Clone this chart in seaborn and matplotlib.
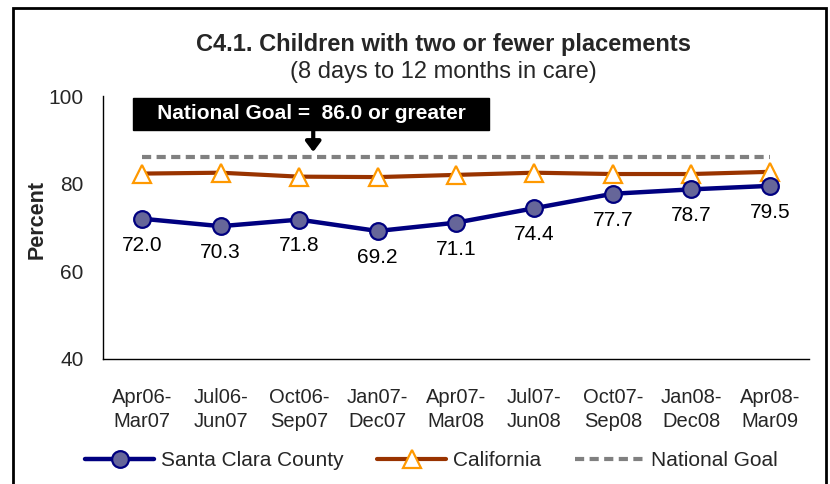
import matplotlib
matplotlib.use("Agg")
import matplotlib.pyplot as plt
from matplotlib.patches import Rectangle
import seaborn as sns
import pandas as pd

categories = ["Apr06-\nMar07", "Jul06-\nJun07", "Oct06-\nSep07", "Jan07-\nDec07",
              "Apr07-\nMar08", "Jul07-\nJun08", "Oct07-\nSep08", "Jan08-\nDec08",
              "Apr08-\nMar09"]
santa_clara = [72.0, 70.3, 71.8, 69.2, 71.1, 74.4, 77.7, 78.7, 79.5]
california = [82.3, 82.5, 81.6, 81.5, 82.0, 82.5, 82.2, 82.2, 82.7]
national_goal = [86.0] * 9
y_ticks = [40, 60, 80, 100]
title = "C4.1. Children with two or fewer placements"
subtitle = "(8 days to 12 months in care)"
goal_text = "National Goal =  86.0 or greater"

sns.set_style("white")
plt.rcParams['font.family'] = ['Liberation Sans', 'DejaVu Sans']

pos = list(range(len(categories)))
df = pd.DataFrame({"pos": pos, "sc": santa_clara, "ca": california, "goal": national_goal})

fig = plt.figure(figsize=(8.3, 4.84), dpi=100)
ax = fig.add_axes([103/830, 1-359/484, (809-103)/830, (359-96)/484])

sns.lineplot(data=df, x="pos", y="goal", ax=ax, color="#808080", lw=3,
             linestyle=(0, (2.2, 1.3)), label="National Goal", zorder=2)
sns.lineplot(data=df, x="pos", y="ca", ax=ax, color="#993300", lw=3,
             marker="^", markersize=13, markerfacecolor="white",
             markeredgecolor="#FF9900", markeredgewidth=1.6,
             label="California", zorder=3)
sns.lineplot(data=df, x="pos", y="sc", ax=ax, color="#000080", lw=3.2,
             marker="o", markersize=12, markerfacecolor="#666699",
             markeredgecolor="#000080", markeredgewidth=1.6,
             label="Santa Clara County", zorder=4)

for x, v in zip(pos, santa_clara):
    ax.annotate(f"{v:.1f}", (x, v), xytext=(0, -19), textcoords="offset points",
                ha="center", va="center", fontsize=15, color="black")

ax.set_xlim(-0.5, len(categories) - 0.5)
ax.set_ylim(40, 100)
ax.set_yticks(y_ticks)
ax.set_yticklabels([str(t) for t in y_ticks], fontsize=15)
ax.set_xticks(pos)
ax.set_xticklabels(categories, fontsize=14.5, linespacing=1.3)
ax.set_xticks([len(categories) - 0.5], minor=True)
ax.tick_params(axis="x", which="both", direction="in", length=4, width=0.8,
               color="#808080", pad=21)
ax.tick_params(axis="y", direction="out", length=5, width=0.8, color="#808080", pad=9)
for s in ["top", "right"]:
    ax.spines[s].set_visible(False)
for s in ["left", "bottom"]:
    ax.spines[s].set_color("black")
    ax.spines[s].set_linewidth(1.0)
ax.set_xlabel("")
ax.set_ylabel("Percent", fontsize=15.5, fontweight="bold")
ax.yaxis.set_label_coords(-0.079, 0.53)

# Goal annotation box
ax.text(2.155, 95.9, "   " + goal_text + "   ", ha="center", va="center", fontsize=15,
        fontweight="bold", color="white",
        bbox=dict(boxstyle="square,pad=0.3", fc="black", ec="black"), zorder=6)
ax.annotate("", xy=(2.18, 86.6), xytext=(2.18, 92.6),
            arrowprops=dict(arrowstyle="-|>,head_width=0.45,head_length=0.6",
                            color="black", lw=3), zorder=6)

fig.text(443/830, 1-45/484, title, ha="center", va="center", fontsize=17, fontweight="bold")
fig.text(443/830, 1-72/484, subtitle, ha="center", va="center", fontsize=17)

handles, labels = ax.get_legend_handles_labels()
order = [labels.index("Santa Clara County"), labels.index("California"), labels.index("National Goal")]
ax.get_legend().remove()
fig.legend([handles[i] for i in order], [labels[i] for i in order],
           loc="center", bbox_to_anchor=(0.52, 1-461/484), ncol=3, frameon=False,
           fontsize=15, handlelength=3.3, columnspacing=1.6, handletextpad=0.35)

fig.patches.append(Rectangle((13/830, -0.02), (826-13)/830, 1-8/484 + 0.02,
                             transform=fig.transFigure, fill=False, ec="black", lw=2))

fig.savefig("out.png", dpi=100)
